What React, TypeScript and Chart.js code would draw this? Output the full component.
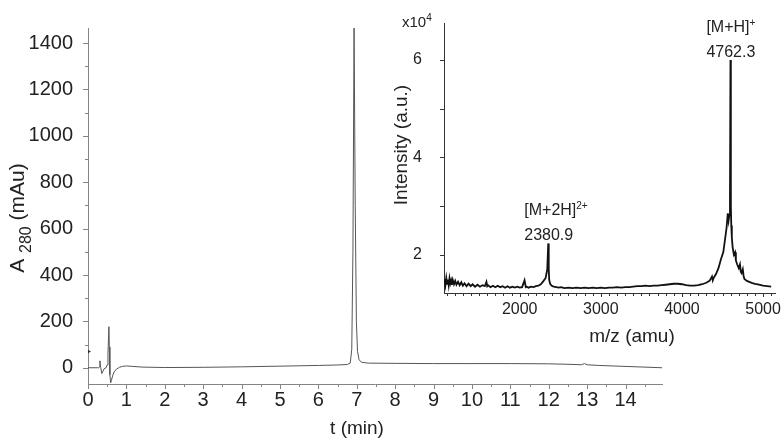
import React, { useEffect, useRef } from 'react';
import { Chart, registerables } from 'chart.js';

Chart.register(...registerables);

const FONT = '"Liberation Sans", Arial, sans-serif';

// ---- Chromatogram (A280 vs time) ----
const rtTime = [0, 0.28, 0.3, 0.31, 0.33, 0.36, 0.38, 0.42, 0.47, 0.5, 0.52, 0.545, 0.555, 0.57, 0.59, 0.61, 0.64, 0.68, 0.74, 0.82, 0.9, 1.0, 1.15, 1.4, 2, 3, 4, 5, 6, 6.5, 6.75, 6.83, 6.87, 6.9, 6.93, 6.96, 6.99, 7.02, 7.06, 7.12, 7.3, 8, 9, 10, 11, 12, 12.5, 12.85, 12.93, 13.0, 13.3, 13.8, 14.3, 14.95];
const rtAbs = [0, 0, 3, 30, 2, -25, -18, -4, 0, 12, 60, 177, 90, -30, -65, -55, -35, -18, -6, 2, 6, 8, 6, 3, 1, 2, 4, 7, 10, 12, 14, 20, 80, 500, 1465, 700, 200, 70, 35, 24, 20, 19, 18, 18, 18, 17, 15, 13, 18, 13, 10, 7, 4, 0];
const injMarkerTime = [0];
const injMarkerAbs = [70];
const timeTickLabels = [0, 1, 2, 3, 4, 5, 6, 7, 8, 9, 10, 11, 12, 13, 14];
const absTickLabels = [0, 200, 400, 600, 800, 1000, 1200, 1400];

// ---- Mass spectrum inset ----
const mzValues = [1068, 1075, 1085, 1095, 1105, 1115, 1125, 1135, 1145, 1155, 1165, 1175, 1190, 1205, 1220, 1240, 1260, 1280, 1300, 1320, 1345, 1370, 1395, 1420, 1450, 1480, 1510, 1540, 1570, 1590, 1600, 1610, 1640, 1670, 1700, 1730, 1760, 1790, 1820, 1850, 1880, 1910, 1940, 1970, 2000, 2030, 2060, 2075, 2085, 2110, 2140, 2170, 2200, 2230, 2260, 2290, 2320, 2340, 2352, 2358, 2364, 2375, 2395, 2420, 2450, 2480, 2510, 2550, 2600, 2650, 2700, 2750, 2800, 2850, 2900, 2950, 3000, 3050, 3100, 3150, 3200, 3250, 3300, 3350, 3400, 3450, 3500, 3550, 3600, 3650, 3700, 3750, 3800, 3850, 3900, 3950, 4000, 4050, 4100, 4150, 4200, 4250, 4300, 4340, 4370, 4380, 4390, 4420, 4450, 4480, 4510, 4530, 4550, 4565, 4575, 4585, 4592, 4598, 4603, 4608, 4615, 4625, 4640, 4655, 4665, 4680, 4700, 4715, 4725, 4735, 4750, 4760, 4770, 4800, 4830, 4860, 4900, 4950, 5000, 5050, 5100, 5146];
const mzIntensity = [1.42, 1.50, 1.38, 1.52, 1.40, 1.49, 1.37, 1.51, 1.41, 1.47, 1.38, 1.48, 1.39, 1.46, 1.38, 1.44, 1.37, 1.43, 1.36, 1.41, 1.35, 1.40, 1.35, 1.39, 1.34, 1.38, 1.34, 1.37, 1.35, 1.44, 1.35, 1.37, 1.33, 1.36, 1.33, 1.36, 1.33, 1.35, 1.32, 1.35, 1.32, 1.34, 1.32, 1.34, 1.32, 1.33, 1.47, 1.33, 1.34, 1.32, 1.34, 1.33, 1.35, 1.36, 1.39, 1.45, 1.52, 1.70, 2.23, 1.68, 1.48, 1.40, 1.36, 1.34, 1.33, 1.32, 1.33, 1.31, 1.32, 1.31, 1.32, 1.31, 1.32, 1.31, 1.32, 1.31, 1.32, 1.31, 1.32, 1.32, 1.33, 1.32, 1.33, 1.33, 1.34, 1.35, 1.35, 1.36, 1.35, 1.36, 1.36, 1.37, 1.38, 1.39, 1.40, 1.40, 1.39, 1.37, 1.36, 1.36, 1.37, 1.39, 1.42, 1.46, 1.55, 1.47, 1.52, 1.60, 1.72, 1.90, 2.05, 2.30, 2.55, 2.85, 2.70, 2.82, 3.2, 6.0, 3.0, 2.6, 2.35, 2.15, 2.0, 2.05, 1.88, 1.80, 1.72, 1.80, 1.65, 1.62, 1.70, 1.56, 1.50, 1.46, 1.44, 1.42, 1.40, 1.38, 1.36, 1.35, 1.34];
const mzTickLabels = [2000, 3000, 4000, 5000];
const intensityTickLabels = [2, 4, 6];
const peakMz = [2358, 4603];
const peakIntensity = [2.23, 6.0];
const peakIon = ['[M+2H]', '[M+H]'];
const peakCharge = ['2+', '+'];
const peakMass = ['2380.9', '4762.3'];

type Part = { text: string; size: number; dy?: number };

function drawRich(ctx: CanvasRenderingContext2D, parts: Part[], x: number, y: number, rot: number, align: 'left' | 'center', color = '#222') {
  ctx.save();
  ctx.translate(x, y);
  ctx.rotate(rot);
  ctx.fillStyle = color;
  ctx.textBaseline = 'alphabetic';
  ctx.textAlign = 'left';
  let total = 0;
  const widths = parts.map((p) => {
    ctx.font = `${p.size}px ${FONT}`;
    const w = ctx.measureText(p.text).width;
    total += w;
    return w;
  });
  let cx = align === 'center' ? -total / 2 : 0;
  parts.forEach((p, i) => {
    ctx.font = `${p.size}px ${FONT}`;
    ctx.fillText(p.text, cx, p.dy || 0);
    cx += widths[i];
  });
  ctx.restore();
  return total;
}

function tickPlugin(axes: Record<string, { major: number; minor: number; majors: number[]; color: string }>) {
  return {
    id: 'tickMarks',
    afterDraw(chart: any) {
      const ctx: CanvasRenderingContext2D = chart.ctx;
      for (const id of Object.keys(axes)) {
        const spec = axes[id];
        const scale = chart.scales[id];
        ctx.save();
        ctx.strokeStyle = spec.color;
        ctx.lineWidth = 1;
        for (const t of scale.ticks) {
          const len = spec.majors.includes(t.value) ? spec.major : spec.minor;
          const p = Math.round(scale.getPixelForValue(t.value)) + 0.5;
          ctx.beginPath();
          if (scale.isHorizontal()) {
            const y0 = Math.round(scale.top);
            ctx.moveTo(p, y0);
            ctx.lineTo(p, y0 + len);
          } else {
            const x0 = Math.round(scale.right);
            ctx.moveTo(x0, p);
            ctx.lineTo(x0 - len, p);
          }
          ctx.stroke();
        }
        ctx.restore();
      }
    },
  };
}

export default function App() {
  const mainRef = useRef<HTMLCanvasElement>(null);
  const insetRef = useRef<HTMLCanvasElement>(null);

  useEffect(() => {
    Chart.defaults.font.family = FONT;
    Chart.defaults.color = '#222';

    const mainAxisColor = '#858585';
    const main = new Chart(mainRef.current!, {
      type: 'line',
      data: {
        datasets: [
          {
            data: rtTime.map((t, i) => ({ x: t, y: rtAbs[i] })),
            borderColor: '#555',
            borderWidth: 1,
            pointRadius: 0,
            tension: 0,
            fill: false,
          },
          {
            data: injMarkerTime.map((t, i) => ({ x: t, y: injMarkerAbs[i] })),
            showLine: false,
            pointStyle: 'triangle',
            rotation: 90,
            pointRadius: 3,
            backgroundColor: '#333',
            borderColor: '#333',
            borderWidth: 0,
          },
        ],
      },
      options: {
        animation: false,
        responsive: false,
        devicePixelRatio: 1,
        events: [],
        layout: { padding: { top: 28, right: 122, left: 0, bottom: 0 } },
        plugins: { legend: { display: false }, tooltip: { enabled: false } },
        scales: {
          x: {
            type: 'linear',
            min: 0,
            max: 14.95,
            grid: { display: false },
            border: { display: true, color: mainAxisColor, width: 1 },
            ticks: {
              stepSize: 0.5,
              includeBounds: false,
              autoSkip: false,
              maxRotation: 0,
              padding: -4,
              font: { size: 20 },
              color: '#222',
              callback: (v: any) => (timeTickLabels.includes(Number(v)) ? String(v) : ''),
            },
            afterFit: (s: any) => { s.height = 60; },
          },
          y: {
            type: 'linear',
            min: -70,
            max: 1465,
            grid: { display: false },
            border: { display: true, color: mainAxisColor, width: 1 },
            ticks: {
              stepSize: 100,
              includeBounds: false,
              autoSkip: false,
              padding: 7,
              font: { size: 20 },
              color: '#222',
              callback: (v: any) => (absTickLabels.includes(Number(v)) ? String(v) : ''),
            },
            afterFit: (s: any) => { s.width = 88; },
          },
        },
      },
      plugins: [
        tickPlugin({
          x: { major: 5, minor: 3, majors: timeTickLabels, color: mainAxisColor },
          y: { major: 5, minor: 3, majors: absTickLabels, color: mainAxisColor },
        }),
        {
          id: 'mainTitles',
          afterDraw(chart: any) {
            const ctx = chart.ctx;
            drawRich(ctx, [{ text: 't (min)', size: 19 }], 357, 434, 0, 'center');
            drawRich(
              ctx,
              [
                { text: 'A ', size: 21 },
                { text: '280', size: 16, dy: 7 },
                { text: ' (mAu)', size: 21 },
              ],
              24,
              218,
              -Math.PI / 2,
              'center'
            );
          },
        },
      ],
    } as any);

    const insetAxisColor = '#333';
    const inset = new Chart(insetRef.current!, {
      type: 'line',
      data: {
        datasets: [
          {
            data: mzValues.map((m, i) => ({ x: m, y: mzIntensity[i] })),
            borderColor: '#111',
            borderWidth: 1.8,
            pointRadius: 0,
            tension: 0,
            fill: false,
          },
        ],
      },
      options: {
        animation: false,
        responsive: false,
        devicePixelRatio: 1,
        events: [],
        layout: { padding: { top: 20, right: 9, left: 400, bottom: 0 } },
        plugins: { legend: { display: false }, tooltip: { enabled: false } },
        scales: {
          x: {
            type: 'linear',
            min: 1067,
            max: 5147,
            grid: { display: false },
            border: { display: true, color: insetAxisColor, width: 1 },
            ticks: {
              stepSize: 100,
              includeBounds: false,
              autoSkip: false,
              maxRotation: 0,
              padding: -1,
              font: { size: 16 },
              color: '#222',
              callback: (v: any) => (mzTickLabels.includes(Number(v)) ? String(v) : ''),
            },
            afterFit: (s: any) => { s.height = 151; },
          },
          y: {
            type: 'linear',
            min: 1.21,
            max: 6.75,
            grid: { display: false },
            border: { display: true, color: insetAxisColor, width: 1 },
            ticks: {
              stepSize: 1,
              includeBounds: false,
              autoSkip: false,
              padding: 14,
              font: { size: 16 },
              color: '#222',
              callback: (v: any) => (intensityTickLabels.includes(Number(v)) ? String(v) : ''),
            },
            afterFit: (s: any) => { s.width = 44; },
          },
        },
      },
      plugins: [
        tickPlugin({
          x: { major: 4, minor: 3, majors: mzTickLabels, color: insetAxisColor },
          y: { major: 4, minor: 4, majors: intensityTickLabels, color: insetAxisColor },
        }),
        {
          id: 'insetTitles',
          afterDraw(chart: any) {
            const ctx = chart.ctx;
            const xs = chart.scales.x;
            const ys = chart.scales.y;
            drawRich(ctx, [{ text: 'm/z (amu)', size: 19 }], 632, 342, 0, 'center');
            drawRich(ctx, [{ text: 'Intensity (a.u.)', size: 19 }], 407, 145, -Math.PI / 2, 'center');
            drawRich(ctx, [{ text: 'x10', size: 15 }, { text: '4', size: 10, dy: -6 }], 402, 27, 0, 'left');
            peakMz.forEach((mz, i) => {
              const px = xs.getPixelForValue(mz);
              const py = ys.getPixelForValue(peakIntensity[i]);
              ctx.save();
              ctx.font = `16px ${FONT}`;
              const w = ctx.measureText(peakMass[i]).width;
              ctx.restore();
              const left = px - w / 2;
              drawRich(ctx, [{ text: peakMass[i], size: 16 }], left, py - 3, 0, 'left');
              drawRich(ctx, [{ text: peakIon[i], size: 16 }, { text: peakCharge[i], size: 10, dy: -6 }], left, py - 28, 0, 'left');
            });
          },
        },
      ],
    } as any);

    return () => {
      main.destroy();
      inset.destroy();
    };
  }, []);

  return (
    <div style={{ position: 'fixed', left: 0, top: 0, width: 784, height: 444, background: '#fff' }}>
      <canvas ref={mainRef} width={784} height={444} style={{ position: 'absolute', left: 0, top: 0 }} />
      <canvas ref={insetRef} width={784} height={444} style={{ position: 'absolute', left: 0, top: 0 }} />
    </div>
  );
}
